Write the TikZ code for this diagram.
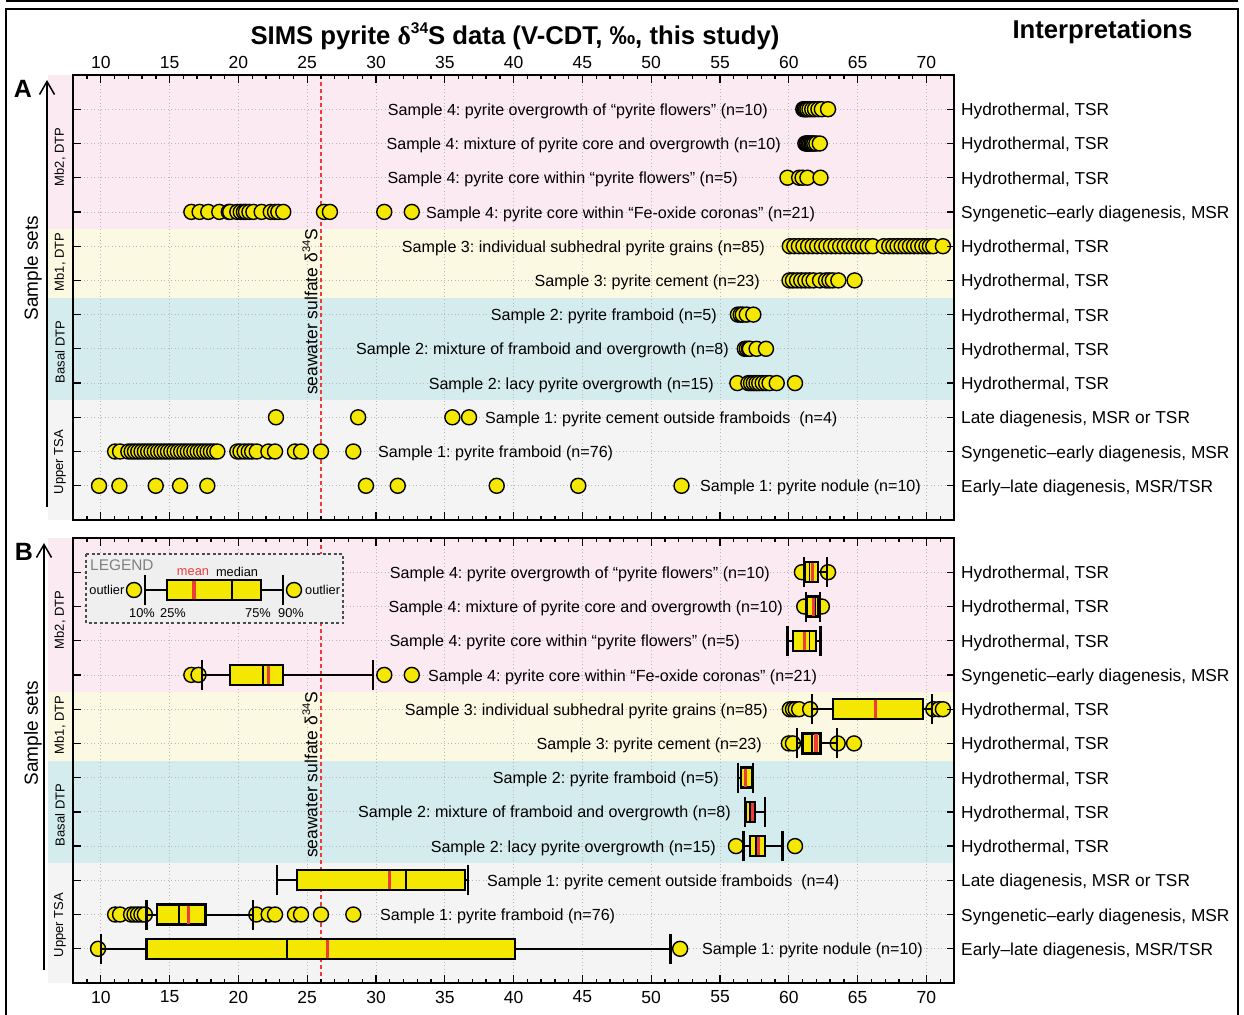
\documentclass[tikz,border=0pt]{standalone}
\usepackage{fontspec}
\setmainfont{Liberation Sans}
\newfontfamily\seriff{Liberation Serif}
\usetikzlibrary{arrows.meta}
\frenchspacing
\definecolor{bpink}{HTML}{FCEAF2}
\definecolor{byel}{HTML}{FBF9E2}
\definecolor{bcyan}{HTML}{D5ECEF}
\definecolor{bgrey}{HTML}{F4F4F4}
\definecolor{dotyel}{HTML}{F5E800}
\definecolor{meanred}{HTML}{EE3B3B}
\definecolor{gridc}{HTML}{B8B8B8}
\definecolor{legfill}{HTML}{EFEFEF}
\definecolor{legtxt}{HTML}{808080}
\newcommand\PX[1]{-36.78+13.76*(#1)}
\newcommand\myfs[1]{\fontsize{#1}{#1}\selectfont}
\newcommand\supr[2]{\raisebox{0.42em}{\myfs{#1}#2}}
\tikzset{
  dotst/.style={fill=dotyel,draw=black,line width=1.4pt},
  whisk/.style={draw=black,line width=2pt},
  boxst/.style={fill=dotyel,draw=black,line width=2.3pt},
  medst/.style={draw=black,line width=1.9pt},
  meanst/.style={draw=meanred,line width=3.2pt},
  capst/.style={draw=black,line width=2.3pt},
  gridst/.style={draw=gridc,line width=0.8pt,dash pattern=on 1pt off 2.5pt},
  tickst/.style={draw=black,line width=1.3pt},
  slab/.style={inner sep=0pt,font=\myfs{16.1},text height=11.6pt,text depth=3.4pt},
  ilab/.style={inner sep=0pt,font=\myfs{17.3},anchor=west,text height=12.6pt,text depth=3.6pt},
  tlab/.style={inner sep=0pt,font=\myfs{17.5}},
  glab/.style={inner sep=0pt,font=\myfs{13},rotate=90},
  sslab/.style={inner sep=0pt,font=\myfs{19},rotate=90},
  letlab/.style={inner sep=0pt,font=\myfs{25}\bfseries},
  swlab/.style={inner sep=0pt,font=\myfs{17.5},rotate=90},
  smallleg/.style={inner sep=0pt,font=\myfs{12.8}},
  uparrow/.style={line width=1.5pt,-{Straight Barb[length=13pt,width=15pt,line width=1.5pt]}},
}
\newcommand\dotrow[2]{\foreach \v in {#2}{\draw[dotst] ({\PX{\v}},#1) circle[radius=7.5];}}
\newcommand\bplot[7]{%
  \draw[whisk] ({\PX{#2}},#1) -- ({\PX{#7}},#1);
  \draw[boxst] ({\PX{#3}},#1-10) rectangle ({\PX{#6}},#1+10);
  \draw[medst] ({\PX{#4}},#1-10) -- ({\PX{#4}},#1+10);
  \draw[meanst] ({\PX{#5}},#1-9) -- ({\PX{#5}},#1+9);
  \draw[capst] ({\PX{#2}},#1-15) -- ({\PX{#2}},#1+15);
  \draw[capst] ({\PX{#7}},#1-15) -- ({\PX{#7}},#1+15);
}
\newcommand\panelbg[1]{%
  \fill[bpink] (48,#1) rectangle (954,#1+154);
  \fill[byel] (48,#1+154) rectangle (954,#1+222.5);
  \fill[bcyan] (48,#1+222.5) rectangle (954,#1+325.2);
  \fill[bgrey] (48,#1+325.2) rectangle (954,#1+445);
  \foreach \v in {10,15,...,70}{\draw[gridst] ({\PX{\v}},#1) -- ({\PX{\v}},#1+445);}
  \foreach \i in {1,...,12}{\draw[gridst] (73.3,#1+34.23*\i) -- (954,#1+34.23*\i);}
  \draw[meanred,line width=2.4pt,dash pattern=on 4pt off 3pt] ({\PX{26}},#1) -- ({\PX{26}},#1+445);
}
\newcommand\panelaxes[2]{%
  \draw[line width=2pt] (73.3,#1) rectangle (954,#1+445);
  \foreach \v in {8,...,72}{\draw[tickst] ({\PX{\v}},#1) -- ++(0,4) ({\PX{\v}},#1+445) -- ++(0,-4);}
  \foreach \v in {10,15,...,70}{\draw[tickst] ({\PX{\v}},#1) -- ++(0,8) ({\PX{\v}},#1+445) -- ++(0,-8);}
  \foreach \i in {1,...,12}{\draw[tickst] (73.3,#1+34.23*\i) -- ++(8,0) (954,#1+34.23*\i) -- ++(-7,0);}
  \foreach \i/\t in {1/{Hydrothermal, TSR},2/{Hydrothermal, TSR},3/{Hydrothermal, TSR},4/{Syngenetic–early diagenesis, MSR},5/{Hydrothermal, TSR},6/{Hydrothermal, TSR},7/{Hydrothermal, TSR},8/{Hydrothermal, TSR},9/{Hydrothermal, TSR},10/{Late diagenesis, MSR or TSR},11/{Syngenetic–early diagenesis, MSR},12/{Early–late diagenesis, MSR/TSR}}{
    \node[ilab] (#2i\i) at (961,#1+34.23*\i+2) {\t};}
  \node[glab] (#2g1) at (60,#1+82) {Mb2, DTP};
  \node[glab] (#2g2) at (60,#1+187) {Mb1, DTP};
  \node[glab] (#2g3) at (60,#1+277) {Basal DTP};
  \node[glab] (#2g4) at (60,#1+387) {Upper TSA};
  \node[swlab] (#2sw) at (310,#1+237) {seawater sulfate δ\supr{11}{34}S};
}
\begin{document}
\begin{tikzpicture}[x=1pt,y=-1pt]
\useasboundingbox (0,0) rectangle (1244,1014);
% frame
\draw[line width=2.2pt] (6,0.8) -- (1238,0.8);
\draw[line width=2.2pt] (6,1030) -- (6,9) -- (1238,9) -- (1238,1030);
% titles
\node[inner sep=0pt,font=\myfs{25.7}\bfseries] (title) at (515,36) {SIMS pyrite {\seriff δ}\supr{15.5}{34}S data (V-CDT, ‰, this study)};
\node[inner sep=0pt,font=\myfs{25.7}\bfseries] (interp) at (1102.5,32) {Interpretations};

% ===================== PANEL A =====================
\panelbg{75}
% dots A
\dotrow{109.2}{61.05,61.15,61.25,61.35,61.5,61.7,61.9,62.15,62.4,62.85}
\dotrow{143.5}{61.2,61.3,61.35,61.45,61.55,61.65,61.75,61.85,62.0,62.25}
\dotrow{177.7}{59.9,60.75,61.0,61.35,62.3}
\dotrow{211.9}{16.58,17.18,17.81,18.61,19.3,19.4,19.92,20.17,20.4,20.55,20.8,21.09,21.69,22.35,22.66,22.9,23.26,26.22,26.65,30.6,32.6}
\dotrow{246.2}{60.07,60.4,60.73,61.06,61.4,61.73,62.06,62.4,62.73,63.06,63.4,63.73,64.06,64.4,64.73,65.06,65.4,65.73,66.1,66.9,67.3,67.6,67.9,68.2,68.5,68.8,69.1,69.4,69.7,70.0,70.25,70.5,71.2}
\dotrow{280.4}{60.05,60.3,60.6,60.9,61.2,61.5,61.8,62.27,62.7,62.95,63.2,63.6,64.78}
\dotrow{314.6}{56.3,56.5,56.65,56.94,57.42}
\dotrow{348.8}{56.8,56.95,57.1,57.17,57.66,58.34}
\dotrow{383.1}{56.26,57.06,57.25,57.45,57.65,57.85,58.1,58.35,58.6,59.12,60.45}
\dotrow{417.3}{22.73,28.7,35.55,36.76}
\dotrow{451.5}{11.04,11.4}
\dotrow{451.5}{12.0,12.24,...,18.3}
\dotrow{451.5}{18.47,19.92,20.15,20.45,20.75,21.0,21.33,22.18,22.66,24.11,24.55,26.0,28.35}
\dotrow{485.8}{9.87,11.35,13.99,15.76,17.74,29.27,31.58,38.77,44.7,52.2}
\panelaxes{75}{a}
\foreach \v in {10,15,...,70}{\node[tlab] (ta\v) at ({\PX{\v}},62.5) {\v};}
% labels A
\node[slab,anchor=east] (a1) at (768,111.2) {Sample 4: pyrite overgrowth of “pyrite flowers” (n=10)};
\node[slab,anchor=east] (a2) at (781,145.5) {Sample 4: mixture of pyrite core and overgrowth (n=10)};
\node[slab,anchor=east] (a3) at (738,179.7) {Sample 4: pyrite core within “pyrite flowers” (n=5)};
\node[slab,anchor=west] (a4) at (426,213.9) {Sample 4: pyrite core within “Fe-oxide coronas” (n=21)};
\node[slab,anchor=east] (a5) at (765,248.2) {Sample 3: individual subhedral pyrite grains (n=85)};
\node[slab,anchor=east] (a6) at (760,282.4) {Sample 3: pyrite cement (n=23)};
\node[slab,anchor=east] (a7) at (717,316.6) {Sample 2: pyrite framboid (n=5)};
\node[slab,anchor=east] (a8) at (729,350.8) {Sample 2: mixture of framboid and overgrowth (n=8)};
\node[slab,anchor=east] (a9) at (714,385.1) {Sample 2: lacy pyrite overgrowth (n=15)};
\node[slab,anchor=west] (a10) at (485,419.3) {Sample 1: pyrite cement outside framboids\hspace{9pt}(n=4)};
\node[slab,anchor=west] (a11) at (378,453.5) {Sample 1: pyrite framboid (n=76)};
\node[slab,anchor=west] (a12) at (700,487.8) {Sample 1: pyrite nodule (n=10)};
\node[letlab] (letA) at (23,89) {A};
\coordinate (arAbot) at (47,507);
\coordinate (arAtop) at (47,80);
\draw[uparrow] (arAbot) -- (arAtop);
\node[sslab] (ssA) at (33,268) {Sample sets};

% ===================== PANEL B =====================
\panelbg{538}
% outlier dots B
\dotrow{572.2}{60.95,62.85}
\dotrow{606.5}{61.12,62.4}
\dotrow{674.9}{16.58,17.1,30.6,32.6}
\dotrow{709.2}{60.07,60.3,60.5,60.75,61.55,70.5,70.9,71.2}
\dotrow{743.4}{60.0,60.3,63.55,64.74}
\dotrow{846.1}{56.16,60.45}
\dotrow{914.5}{11.04,11.4,12.2,12.45,12.7,12.95,13.2,21.3,22.2,22.66,24.11,24.55,26.0,28.35}
\dotrow{948.8}{9.8,52.1}
% boxes B: y, w10, q1, median, mean, q3, w90
\bplot{572.2}{61.1}{61.15}{61.5}{61.7}{62.1}{62.75}
\bplot{606.5}{61.25}{61.3}{61.9}{61.8}{62.15}{62.25}
\bplot{640.7}{59.9}{60.3}{61.5}{61.15}{61.95}{62.3}
\bplot{674.9}{17.33}{19.4}{21.8}{22.2}{23.26}{29.8}
\bplot{709.2}{61.66}{63.23}{66.25}{66.3}{69.73}{70.38}
\bplot{743.4}{60.6}{61.0}{61.7}{61.97}{62.3}{63.5}
\bplot{777.6}{56.3}{56.5}{56.9}{56.87}{57.3}{57.4}
\bplot{811.8}{56.8}{56.9}{57.2}{57.37}{57.5}{58.27}
\bplot{846.1}{56.7}{57.2}{57.6}{57.8}{58.25}{59.55}
\bplot{880.3}{22.78}{24.24}{32.18}{30.97}{36.45}{36.7}
\bplot{914.5}{13.33}{14.1}{15.66}{16.4}{17.6}{21.08}
\bplot{948.8}{10.0}{13.33}{23.5}{26.5}{40.1}{51.4}
\panelaxes{538}{b}
\foreach \v in {10,15,...,70}{\node[tlab] (tb\v) at ({\PX{\v}},997) {\v};}
% labels B
\node[slab,anchor=east] (b1) at (770,574.2) {Sample 4: pyrite overgrowth of “pyrite flowers” (n=10)};
\node[slab,anchor=east] (b2) at (783,608.5) {Sample 4: mixture of pyrite core and overgrowth (n=10)};
\node[slab,anchor=east] (b3) at (740,642.7) {Sample 4: pyrite core within “pyrite flowers” (n=5)};
\node[slab,anchor=west] (b4) at (428,676.9) {Sample 4: pyrite core within “Fe-oxide coronas” (n=21)};
\node[slab,anchor=east] (b5) at (768,711.2) {Sample 3: individual subhedral pyrite grains (n=85)};
\node[slab,anchor=east] (b6) at (762,745.4) {Sample 3: pyrite cement (n=23)};
\node[slab,anchor=east] (b7) at (719,779.6) {Sample 2: pyrite framboid (n=5)};
\node[slab,anchor=east] (b8) at (731,813.8) {Sample 2: mixture of framboid and overgrowth (n=8)};
\node[slab,anchor=east] (b9) at (716,848.1) {Sample 2: lacy pyrite overgrowth (n=15)};
\node[slab,anchor=west] (b10) at (487,882.3) {Sample 1: pyrite cement outside framboids\hspace{9pt}(n=4)};
\node[slab,anchor=west] (b11) at (380,916.5) {Sample 1: pyrite framboid (n=76)};
\node[slab,anchor=west] (b12) at (702,950.8) {Sample 1: pyrite nodule (n=10)};
\node[letlab] (letB) at (24,552) {B};
\coordinate (arBbot) at (44,970);
\coordinate (arBtop) at (44,543);
\draw[uparrow] (arBbot) -- (arBtop);
\node[sslab] (ssB) at (33,733) {Sample sets};

% legend
\draw[fill=legfill,draw=black!70,line width=1.1pt,dash pattern=on 3pt off 2.5pt] (86,554) rectangle (343,623);
\node[inner sep=0pt,anchor=west,font=\myfs{15.4},text=legtxt] (legt) at (90,565.5) {LEGEND};
\draw[dotst] (134,590) circle[radius=7.5];
\draw[dotst] (294,590) circle[radius=7.5];
\draw[whisk] (145,590) -- (283,590);
\draw[boxst] (167,580) rectangle (261,600);
\draw[medst] (232,580) -- (232,600);
\draw[meanst] (194,581) -- (194,599);
\draw[capst] (145,575) -- (145,605);
\draw[capst] (283,575) -- (283,605);
\node[smallleg,anchor=east] (lo1) at (124.5,590) {outlier};
\node[smallleg,anchor=west] (lo2) at (305,590) {outlier};
\node[smallleg,text=meanred] (lmean) at (193,572) {mean};
\node[smallleg] (lmed) at (237,572) {median};
\node[smallleg] (l10) at (142,613) {10\%};
\node[smallleg] (l25) at (173,613) {25\%};
\node[smallleg] (l75) at (258,613) {75\%};
\node[smallleg] (l90) at (291,613) {90\%};
\end{tikzpicture}
\end{document}
